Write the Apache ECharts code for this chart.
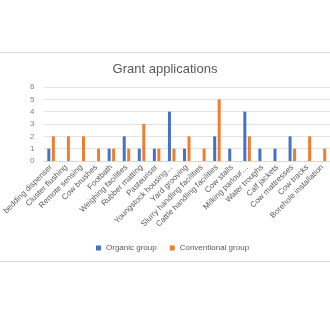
<!DOCTYPE html>
<html>
<head>
<meta charset="utf-8">
<script src="https://cdn.jsdelivr.net/npm/echarts@6/dist/echarts.min.js"></script>
<style>
  html, body { margin: 0; padding: 0; background: #fff; }
  #chart { width: 330px; height: 330px; }
</style>
</head>
<body>
<div id="chart"></div>
<script>
// Grant application counts per item, by farm group
const categories = [
  'bedding dispenser', 'Cluster flushing', 'Remote sensing', 'Cow brushes',
  'Footbath', 'Weighing facilities', 'Rubber matting', 'Pasteuriser',
  'Youngstock housing…', 'Yard grooving', 'Slurry handling facilities',
  'Cattle handling facilities', 'Cow stalls', 'Milking parlour…',
  'Water troughs', 'Calf jackets', 'Cow mattresses', 'Cow tracks',
  'Borehole installation'
];
const organicGroup = [1, 0, 0, 0, 1, 2, 1, 1, 4, 1, 0, 2, 1, 4, 1, 1, 2, 0, 0];
const conventionalGroup = [2, 2, 2, 1, 1, 1, 3, 1, 1, 2, 1, 5, 0, 2, 0, 0, 1, 2, 1];
const yTicks = [0, 1, 2, 3, 4, 5, 6];

const font = 'Liberation Sans, Arial, sans-serif';
const chart = echarts.init(document.getElementById('chart'), null, { renderer: 'canvas' });

chart.setOption({
  animation: false,
  backgroundColor: '#ffffff',
  title: {
    text: 'Grant applications',
    left: 'center',
    top: 58,
    textStyle: { fontFamily: font, fontSize: 13, fontWeight: 'normal', color: '#595959' }
  },
  legend: {
    bottom: 73,
    left: 91,
    itemWidth: 5,
    itemHeight: 5,
    itemGap: 13,
    icon: 'rect',
    textStyle: { fontFamily: font, fontSize: 8, color: '#595959' },
    data: ['Organic group', 'Conventional group']
  },
  graphic: [
    { type: 'line', shape: { x1: 0, y1: 52.5, x2: 330, y2: 52.5 }, style: { stroke: '#d9d9d9', lineWidth: 1 } },
    { type: 'line', shape: { x1: 0, y1: 261.5, x2: 330, y2: 261.5 }, style: { stroke: '#d9d9d9', lineWidth: 1 } }
  ],
  grid: { left: 40, right: 0, top: 87, bottom: 169, containLabel: false },
  xAxis: {
    type: 'category',
    data: categories,
    axisLine: { lineStyle: { color: '#d9d9d9' } },
    axisTick: { show: false },
    axisLabel: {
      interval: 0,
      rotate: 45,
      margin: 5,
      fontFamily: font,
      fontSize: 8,
      color: '#595959'
    }
  },
  yAxis: {
    type: 'value',
    min: yTicks[0],
    max: yTicks[yTicks.length - 1],
    interval: 1,
    axisLine: { show: false },
    axisTick: { show: false },
    splitLine: { lineStyle: { color: '#e3e3e3' } },
    axisLabel: { fontFamily: font, fontSize: 8, color: '#7f7f7f', margin: 9 }
  },
  series: [
    {
      name: 'Organic group',
      type: 'bar',
      data: organicGroup,
      barWidth: 3,
      barGap: '50%',
      itemStyle: { color: '#4472c4' }
    },
    {
      name: 'Conventional group',
      type: 'bar',
      data: conventionalGroup,
      barWidth: 3,
      itemStyle: { color: '#ed7d31' }
    }
  ]
});
</script>
</body>
</html>
